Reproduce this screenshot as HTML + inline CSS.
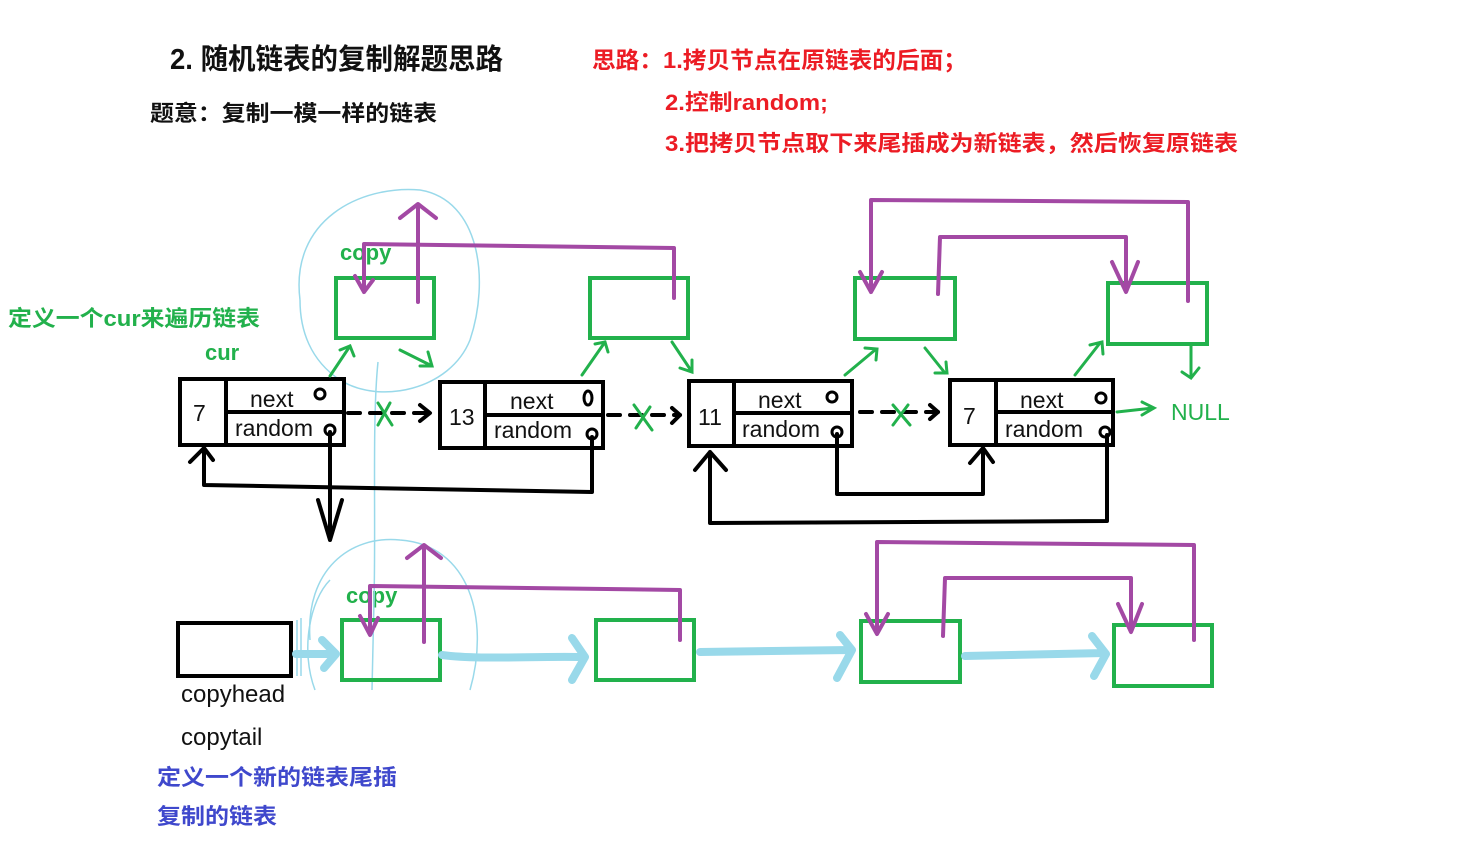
<!DOCTYPE html>
<html><head><meta charset="utf-8"><style>
html,body{margin:0;padding:0;background:#fff;}
svg{display:block}
text{font-family:"Liberation Sans","Noto Sans CJK SC",sans-serif;}
</style></head><body>
<svg width="1464" height="861" viewBox="0 0 1464 861" xmlns="http://www.w3.org/2000/svg">
<rect width="1464" height="861" fill="#fff"/>
<text x="170" y="69" font-size="29" font-weight="bold" fill="#111" textLength="333" lengthAdjust="spacingAndGlyphs">2. 随机链表的复制解题思路</text>
<text x="150" y="121" font-size="22" font-weight="bold" fill="#111" textLength="287" lengthAdjust="spacingAndGlyphs">题意：复制一模一样的链表</text>
<g fill="#ec1c24" font-size="22" font-weight="bold">
<text x="592" y="68" font-size="23" textLength="375" lengthAdjust="spacingAndGlyphs">思路：1.拷贝节点在原链表的后面；</text>
<text x="665" y="110" textLength="163" lengthAdjust="spacingAndGlyphs">2.控制random;</text>
<text x="665" y="151" textLength="573" lengthAdjust="spacingAndGlyphs">3.把拷贝节点取下来尾插成为新链表，然后恢复原链表</text>
</g>
<g fill="#22b14c" font-weight="bold" font-size="22">
<text x="8" y="326" textLength="252" lengthAdjust="spacingAndGlyphs">定义一个cur来遍历链表</text>
<text x="205" y="360">cur</text>
<text x="340" y="260">copy</text>
<text x="346" y="603">copy</text>
</g>
<g fill="none" stroke="#99d9ea" stroke-width="1.5">
<path d="M300,300 C290,220 360,185 420,190 C480,200 490,280 470,340 C450,390 380,405 340,380 C310,360 300,330 300,300"/>
<path d="M378,362 C372,420 376,520 374,600 L372,690"/>
<path d="M310,640 C305,570 350,535 400,540 C470,545 490,620 470,690"/>
<path d="M315,690 C300,650 310,600 330,580"/>
<line x1="297" y1="620" x2="297" y2="676"/><line x1="301" y1="618" x2="301" y2="676"/>
</g>
<g fill="#fff" stroke="#000" stroke-width="4">
<rect x="180" y="379" width="164" height="66"/><line x1="226" y1="379" x2="226" y2="445"/><line x1="226" y1="412" x2="344" y2="412"/>
<rect x="440" y="382" width="163" height="66"/><line x1="485" y1="382" x2="485" y2="448"/><line x1="485" y1="415" x2="603" y2="415"/>
<rect x="689" y="381" width="163" height="65"/><line x1="734" y1="381" x2="734" y2="446"/><line x1="734" y1="413" x2="852" y2="413"/>
<rect x="950" y="380" width="163" height="65"/><line x1="996" y1="380" x2="996" y2="445"/><line x1="996" y1="412" x2="1113" y2="412"/>
<rect x="178" y="623" width="113" height="53"/>
</g>
<g font-size="23" fill="#111">
<text x="193" y="421">7</text><text x="250" y="407">next</text><text x="235" y="436">random</text>
<text x="449" y="425">13</text><text x="510" y="409">next</text><text x="494" y="438">random</text>
<text x="698" y="425">11</text><text x="758" y="408">next</text><text x="742" y="437">random</text>
<text x="963" y="424">7</text><text x="1020" y="408">next</text><text x="1005" y="437">random</text>
<text x="181" y="702" font-size="24">copyhead</text><text x="181" y="745" font-size="24">copytail</text>
</g>
<g fill="none" stroke="#000" stroke-width="3">
<circle cx="320" cy="394" r="5"/><circle cx="330" cy="430" r="5"/>
<ellipse cx="588" cy="398" rx="4" ry="7"/><circle cx="592" cy="434" r="5"/>
<circle cx="832" cy="397" r="5"/><circle cx="837" cy="432" r="5"/>
<circle cx="1101" cy="398" r="5"/><circle cx="1105" cy="432" r="5"/>
</g>
<g fill="none" stroke="#000" stroke-width="4" stroke-linejoin="round" stroke-linecap="round">
<path d="M330,432 L330,540 M318,500 L330,540 L342,500"/>
<path d="M592,437 L592,492 L204,485 L204,448 M190,462 L204,448 L213,460"/>
<path d="M837,434 L837,494 L983,494 L983,448 M970,463 L983,448 L993,462"/>
<path d="M1107,435 L1107,521 L710,523 L710,452 M695,470 L710,452 L726,470"/>
<path d="M348,413 L430,413" stroke-dasharray="12,10"/>
<path d="M608,415 L680,415" stroke-dasharray="12,10"/>
<path d="M860,412 L938,412" stroke-dasharray="12,10"/>
<path d="M420,405 L430,413 L420,421 M672,408 L680,415 L672,423 M930,405 L938,412 L930,419"/>
</g>
<g fill="none" stroke="#22b14c" stroke-width="4">
<rect x="336" y="278" width="98" height="60"/><rect x="590" y="278" width="98" height="60"/>
<rect x="855" y="278" width="100" height="61"/><rect x="1108" y="283" width="99" height="61"/>
<rect x="342" y="620" width="98" height="60"/><rect x="596" y="620" width="98" height="60"/>
<rect x="861" y="621" width="99" height="61"/><rect x="1114" y="625" width="98" height="61"/>
</g>
<g fill="none" stroke="#22b14c" stroke-width="3" stroke-linecap="round">
<path d="M330,376 L350,346 M340,350 L350,346 L354,356"/>
<path d="M400,350 L430,365 M428,352 L432,366 L420,366"/>
<path d="M582,375 L605,342 M595,344 L605,342 L608,352"/>
<path d="M672,342 L692,372 M680,368 L692,372 L692,360"/>
<path d="M845,375 L875,350 M865,348 L877,349 L876,360"/>
<path d="M925,348 L945,373 M935,373 L947,373 L946,362"/>
<path d="M1075,375 L1100,343 M1090,345 L1102,342 L1103,354"/>
<path d="M1191,346 L1191,377 M1182,372 L1191,378 L1199,368"/>
<path d="M1117,412 L1153,408 M1142,402 L1154,408 L1142,415"/>
<path d="M378,403 L392,425 M378,425 L390,403 M634,405 L652,430 M636,428 L650,407 M893,405 L910,425 M893,425 L908,405"/>
</g>
<text x="1171" y="420" font-size="23" fill="#22b14c">NULL</text>
<g fill="none" stroke="#99d9ea" stroke-width="8" stroke-linecap="round" stroke-linejoin="round">
<path d="M296,654 L334,654 M322,640 L336,654 L324,668"/>
<path d="M442,655 C480,660 530,656 582,657 M572,638 L585,657 L572,680"/>
<path d="M700,652 L850,650 M840,635 L852,650 L837,678"/>
<path d="M965,656 L1105,653 M1092,636 L1106,654 L1094,676"/>
</g>
<g fill="none" stroke="#a349a4" stroke-width="4" stroke-linecap="round" stroke-linejoin="round">
<path d="M418,302 L418,206 M400,218 L418,204 L436,218"/>
<path d="M674,298 L674,248 L364,244 L364,292 M355,276 L364,292 L373,280"/>
<path d="M1188,301 L1188,202 L871,200 L871,292 M860,272 L871,292 L882,272"/>
<path d="M938,294 L940,237 L1126,237 L1126,290 M1112,262 L1126,292 L1138,262"/>
<path d="M424,642 L424,546 M407,558 L424,545 L441,558"/>
<path d="M680,640 L680,590 L370,586 L370,634 M360,616 L370,635 L378,618"/>
<path d="M1194,640 L1194,545 L877,542 L877,632 M866,614 L877,634 L888,614"/>
<path d="M943,636 L945,578 L1131,578 L1131,630 M1118,604 L1131,632 L1142,604"/>
</g>
<rect x="300" y="694" width="930" height="20" fill="#fff"/>
<g fill="#3f48cc" font-size="22" font-weight="bold">
<text x="157" y="785" textLength="240" lengthAdjust="spacingAndGlyphs">定义一个新的链表尾插</text>
<text x="157" y="824" textLength="120" lengthAdjust="spacingAndGlyphs">复制的链表</text>
</g>
</svg>
</body></html>
